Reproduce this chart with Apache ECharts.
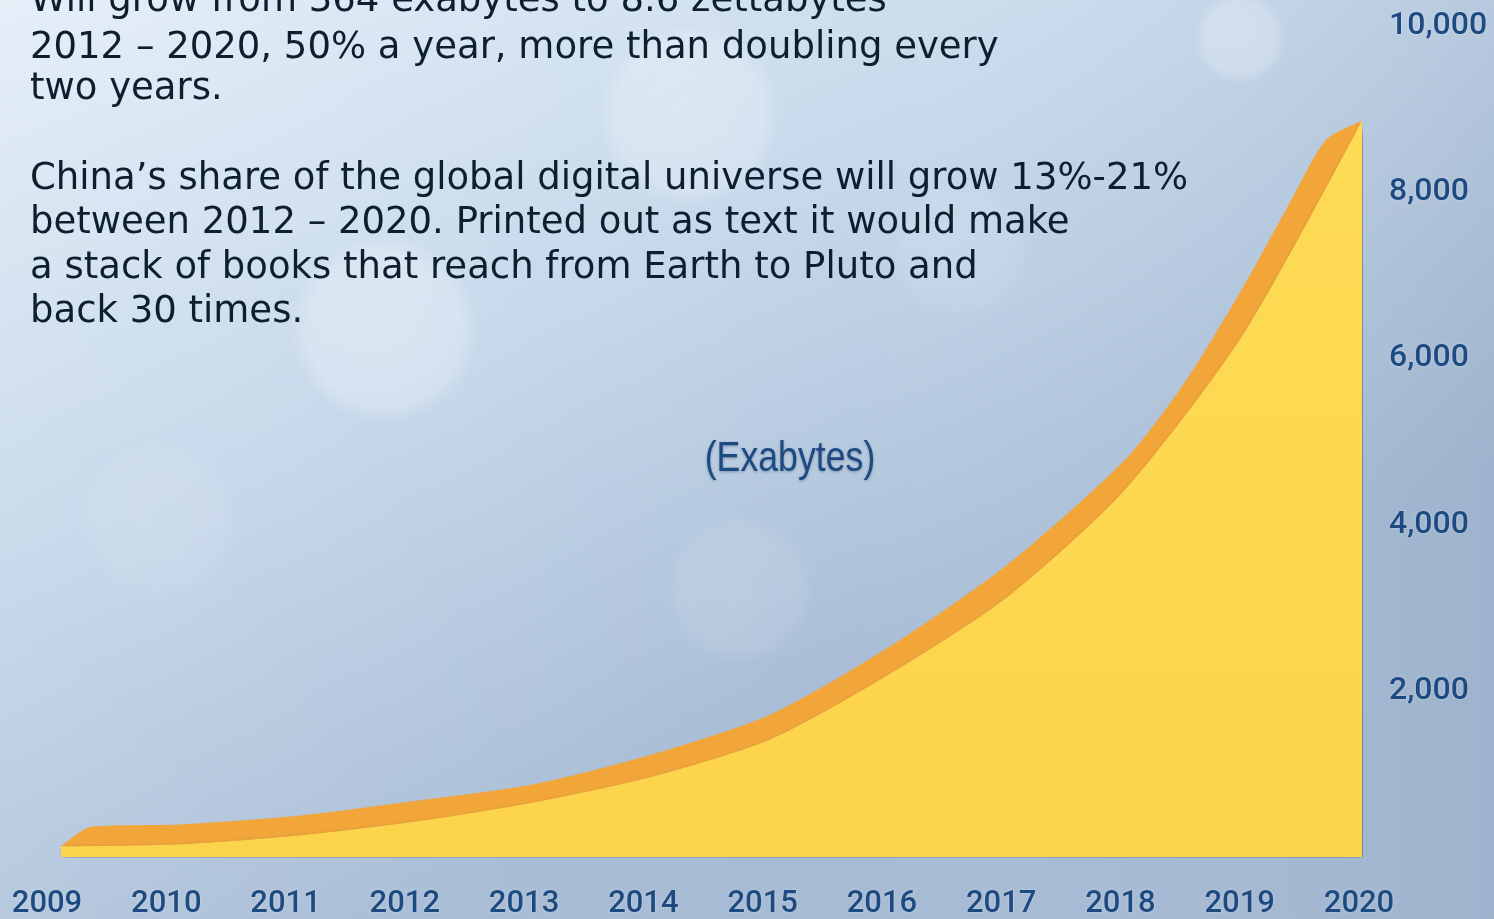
<!DOCTYPE html>
<html>
<head>
<meta charset="utf-8">
<title>China's digital universe (Exabytes)</title>
<script src="https://cdn.jsdelivr.net/npm/echarts@6/dist/echarts.min.js"></script>
<style>
  html, body { margin: 0; padding: 0; width: 100%; height: 100%; overflow: hidden; }
  #chart { width: 1494px; height: 919px; }
</style>
</head>
<body>
<div id="chart"></div>
<script>
// Year labels along the bottom
const yearLabels = ['2009', '2010', '2011', '2012', '2013', '2014', '2015', '2016', '2017', '2018', '2019', '2020'];

// Front face of the ribbon: exabytes per year
const frontYears = [2009, 2010, 2011, 2012, 2013, 2014, 2015, 2016, 2017, 2018, 2019, 2020];
const frontValues = [120, 145, 250, 420, 650, 960, 1410, 2190, 3120, 4420, 6290, 8850];

// Top (back) edge of the ribbon, which gives the extruded look
const backYears = [2009, 2009.26, 2010, 2011, 2012, 2013, 2014, 2015, 2016, 2017, 2018, 2018.5, 2019, 2019.4, 2019.7, 2020];
const backValues = [120, 360, 385, 490, 670, 870, 1230, 1710, 2520, 3510, 4780, 5700, 6860, 7890, 8630, 8850];

// Value axis ticks that carry a label
const yTicks = [2000, 4000, 6000, 8000, 10000];

// Paragraph lines in the upper left
const noteLines = [
  'Will grow from 364 exabytes to 8.6 zettabytes',
  '2012 \u2013 2020, 50% a year, more than doubling every',
  'two years.',
  '',
  'China\u2019s share of the global digital universe will grow 13%-21%',
  'between 2012 \u2013 2020. Printed out as text it would make',
  'a stack of books that reach from Earth to Pluto and',
  'back 30 times.'
];
const unitLabel = '(Exabytes)';

const W = 1494, H = 919;
const axisBlue = '#1d4a80';
const labelFont = 'Roboto, "Liberation Sans", sans-serif';

const chart = echarts.init(document.getElementById('chart'), null, { renderer: 'canvas', width: W, height: H });

// soft light spots in the backdrop
const spots = [
  { x: 385, y: 330, r: 95, a: 0.30 },
  { x: 690, y: 115, r: 92, a: 0.28 },
  { x: 1240, y: 38, r: 46, a: 0.26 },
  { x: 960, y: 250, r: 70, a: 0.12 },
  { x: 740, y: 590, r: 75, a: 0.12 },
  { x: 160, y: 520, r: 80, a: 0.10 },
  { x: 1120, y: 700, r: 70, a: 0.08 }
];

const graphics = [
  {
    type: 'rect', z: -20, silent: true,
    shape: { x: 0, y: 0, width: W, height: H },
    style: {
      fill: new echarts.graphic.LinearGradient(0, 0, 0.25, 1, [
        { offset: 0, color: '#e2edf7' },
        { offset: 0.5, color: '#c5d7ea' },
        { offset: 1, color: '#a6bbd4' }
      ])
    }
  },
  {
    type: 'rect', z: -19, silent: true,
    shape: { x: 0, y: 0, width: W, height: H },
    style: {
      fill: new echarts.graphic.LinearGradient(0, 0, 1, 0, [
        { offset: 0, color: 'rgba(255,255,255,0.10)' },
        { offset: 0.55, color: 'rgba(255,255,255,0)' },
        { offset: 1, color: 'rgba(90,110,140,0.10)' }
      ])
    }
  }
];

spots.forEach(s => {
  graphics.push({
    type: 'circle', z: -18, silent: true,
    shape: { cx: s.x, cy: s.y, r: s.r },
    style: {
      fill: new echarts.graphic.RadialGradient(0.5, 0.5, 0.5, [
        { offset: 0, color: 'rgba(255,255,255,' + s.a + ')' },
        { offset: 0.8, color: 'rgba(255,255,255,' + (s.a * 0.8) + ')' },
        { offset: 1, color: 'rgba(255,255,255,0)' }
      ])
    }
  });
});

// paragraph text
const lineTops = [-17, 30, 71, 0, 161, 205, 250, 294];
noteLines.forEach((t, i) => {
  if (!t) return;
  graphics.push({
    type: 'text', z: 50, silent: true,
    left: 30, top: lineTops[i],
    style: {
      text: t,
      fill: '#0d1f2e',
      font: '37px "DejaVu Sans", Verdana, sans-serif'
    }
  });
});

// unit caption, condensed horizontally
graphics.push({
  type: 'text', z: 50, silent: true,
  x: 790, y: 459, scaleX: 0.85,
  style: {
    x: 0, y: 0,
    text: unitLabel,
    fill: axisBlue,
    font: '42px "Liberation Sans", Arial, sans-serif',
    align: 'center',
    verticalAlign: 'middle',
    textShadowColor: 'rgba(20,40,70,0.35)',
    textShadowBlur: 3,
    textShadowOffsetY: 1
  }
});

const option = {
  animation: false,
  graphic: graphics,
  grid: [
    { left: 61, right: 132, top: 26, bottom: 62, outerBoundsMode: 'none', containLabel: false },
    { left: 47, right: 135, top: 26, bottom: 62, outerBoundsMode: 'none', containLabel: false }
  ],
  xAxis: [
    { type: 'value', gridIndex: 0, min: 2009, max: 2020, show: false },
    {
      type: 'category', gridIndex: 1, data: yearLabels, boundaryGap: false,
      axisLine: { show: false }, axisTick: { show: false }, splitLine: { show: false },
      axisLabel: {
        margin: 32, color: axisBlue, fontSize: 31, fontWeight: 500, fontFamily: labelFont,
        interval: 0,
        textShadowColor: 'rgba(255,255,255,0.5)', textShadowBlur: 2
      }
    }
  ],
  yAxis: [
    {
      type: 'value', gridIndex: 0, position: 'right',
      min: 0, max: 10000, interval: 2000,
      axisLine: { show: false }, axisTick: { show: false }, splitLine: { show: false },
      axisLabel: {
        margin: 27, align: 'left', color: axisBlue, fontSize: 32, fontWeight: 500, fontFamily: labelFont,
        padding: [4, 0, 0, 0],
        textShadowColor: 'rgba(255,255,255,0.5)', textShadowBlur: 2,
        formatter: v => yTicks.includes(v) ? v.toLocaleString('en-US') : ''
      }
    },
    { type: 'value', gridIndex: 1, show: false }
  ],
  series: [
    {
      name: 'top edge',
      type: 'line', xAxisIndex: 0, yAxisIndex: 0,
      data: backYears.map((y, i) => [y, backValues[i]]),
      symbol: 'none', smooth: 0.25,
      lineStyle: { width: 1, color: '#f2a63a' },
      areaStyle: { color: '#f2a63a', opacity: 1 },
      z: 3
    },
    {
      name: 'Exabytes',
      type: 'line', xAxisIndex: 0, yAxisIndex: 0,
      data: frontYears.map((y, i) => [y, frontValues[i]]),
      symbol: 'none', smooth: 0.25,
      lineStyle: { width: 1, color: '#fdd84f' },
      areaStyle: {
        opacity: 1,
        color: new echarts.graphic.LinearGradient(0, 0, 0, 1, [
          { offset: 0, color: '#fedb55' },
          { offset: 1, color: '#fcd44b' }
        ]),
        shadowColor: 'rgba(40,55,80,0.55)',
        shadowBlur: 6,
        shadowOffsetX: 2,
        shadowOffsetY: 3
      },
      z: 4
    }
  ]
};

chart.setOption(option);
</script>
</body>
</html>
